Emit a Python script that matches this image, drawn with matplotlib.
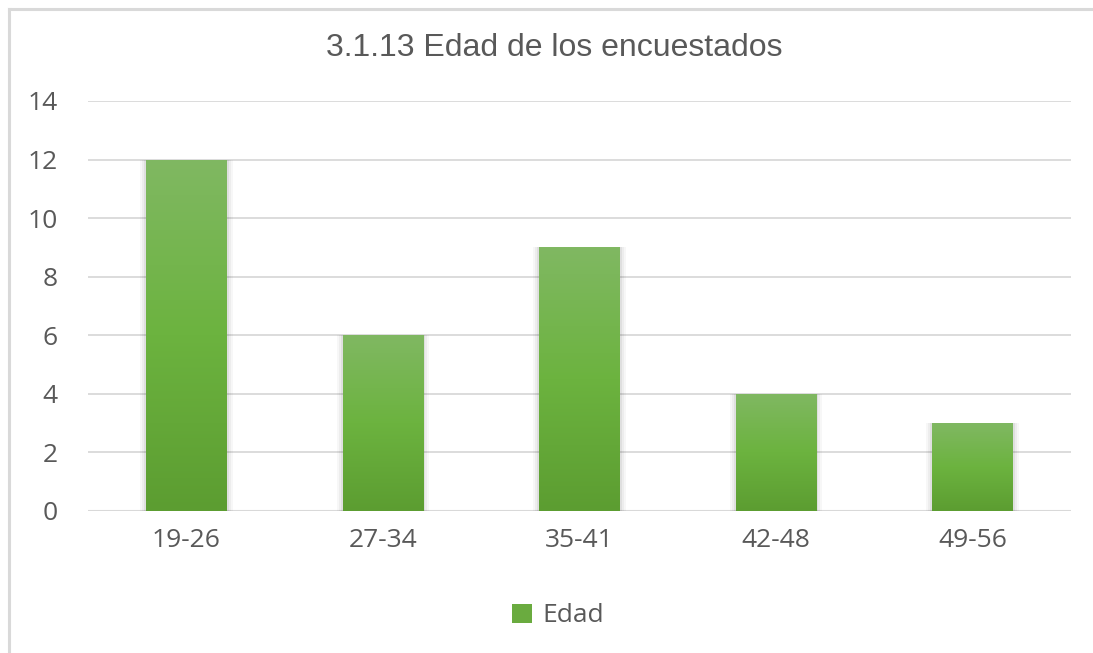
import matplotlib
matplotlib.use("Agg")
import matplotlib.pyplot as plt
import numpy as np
from matplotlib.patches import Rectangle, Patch
from matplotlib.lines import Line2D
from matplotlib.colors import LinearSegmentedColormap

categories = ["19-26", "27-34", "35-41", "42-48", "49-56"]
values = [12, 6, 9, 4, 3]
yticks = [0, 2, 4, 6, 8, 10, 12, 14]
title = "3.1.13 Edad de los encuestados"
series_name = "Edad"

W, H = 1093, 653
fig = plt.figure(figsize=(W / 100, H / 100), dpi=100)
fig.patch.set_facecolor("white")

# outer chart border (extends off right/bottom): left and top edges only
bx, by = 8.5 / W, 1 - 8.5 / H
fig.add_artist(Line2D([bx, bx], [0, by], transform=fig.transFigure,
                      color="#d9d9d9", linewidth=2.2, solid_capstyle="projecting"))
fig.add_artist(Line2D([bx, 1], [by, by], transform=fig.transFigure,
                      color="#d9d9d9", linewidth=2.2, solid_capstyle="projecting"))

ax = fig.add_axes([88 / W, 1 - 511 / H, (1071 - 88) / W, (511 - 101) / H])
ax.set_xlim(-0.5, len(categories) - 0.5)
ax.set_ylim(0, 14)
ax.set_yticks(yticks)
ax.set_xticks(range(len(categories)))
ax.set_xticklabels(categories)
for s in ax.spines.values():
    s.set_visible(False)
ax.grid(axis="y", color="#d9d9d9", linewidth=1.3)
ax.set_axisbelow(True)
ax.tick_params(axis="both", length=0, labelsize=19, labelcolor="#595959")
ax.tick_params(axis="y", pad=22)
ax.tick_params(axis="x", pad=12)
for lab in ax.get_xticklabels() + ax.get_yticklabels():
    lab.set_family(["Open Sans", "DejaVu Sans"])
ax.axhline(0, color="#d9d9d9", linewidth=1.5, zorder=1)

cmap = LinearSegmentedColormap.from_list("g", ["#5c9d31", "#6cb33f", "#80b862"])
bw = 0.41
bars = ax.bar(range(len(categories)), values, width=bw, color="#6aab3f",
              edgecolor="none", zorder=2)
grad = np.linspace(0, 1, 256).reshape(-1, 1)
for b in bars:
    x0, y0 = b.get_x(), b.get_y()
    w, h = b.get_width(), b.get_height()
    # soft shadow
    for k, a in zip([0.03, 0.02, 0.01], [0.03, 0.04, 0.06]):
        ax.add_patch(Rectangle((x0 - k, y0 - 0.06), w + 2 * k, h + 0.06,
                               facecolor="black", alpha=a, edgecolor="none", zorder=1.5))
    im = ax.imshow(grad, extent=[x0, x0 + w, y0, y0 + h], origin="lower",
                   cmap=cmap, aspect="auto", zorder=3)
    im.set_clip_path(b)
ax.set_xlim(-0.5, len(categories) - 0.5)
ax.set_ylim(0, 14)

fig.text(554 / W, 1 - 48 / H, title, ha="center", va="center", fontsize=23,
         color="#595959", family=["Liberation Sans", "DejaVu Sans"])

leg = fig.legend(handles=[Patch(facecolor="#6aab3f", edgecolor="none", label=series_name)],
                 loc="center", bbox_to_anchor=(558 / W, 1 - 616 / H), frameon=False,
                 prop={"family": ["Open Sans", "DejaVu Sans"], "size": 19},
                 handlelength=0.75, handleheight=0.75, handletextpad=0.4)
for t in leg.get_texts():
    t.set_color("#595959")

fig.savefig("out.png", dpi=100, facecolor="white")
